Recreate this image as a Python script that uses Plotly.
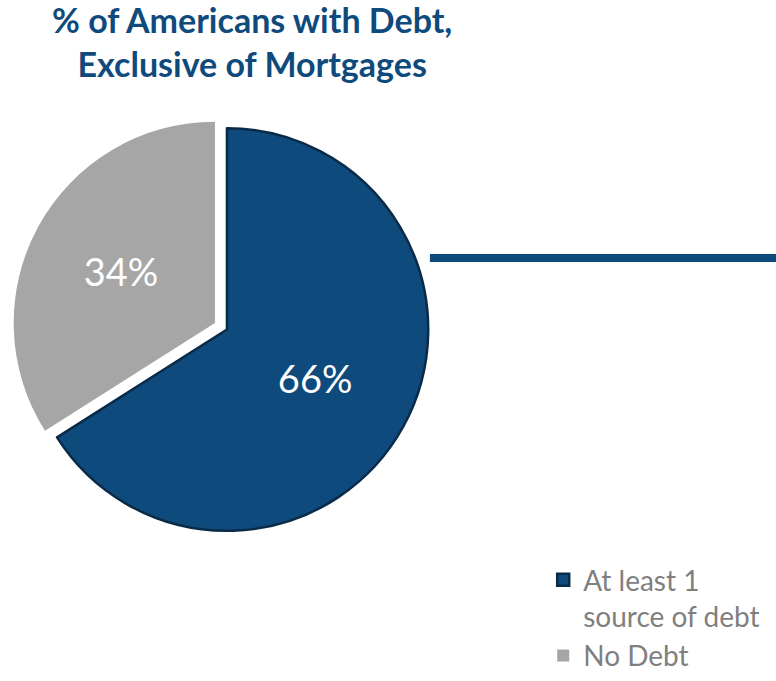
import plotly.graph_objects as go

labels = ["At least 1<br>source of debt", "No Debt"]
values = [66, 34]
colors = ["#0F4A7C", "#A6A6A6"]
outline_colors = ["#0A2B48", "#A6A6A6"]
outline_widths = [2.5, 0]
pulls = [0.068, 0]
title_text = "% of Americans with Debt,<br>Exclusive of Mortgages"

fig = go.Figure(go.Pie(
    labels=labels,
    values=values,
    sort=False,
    direction="clockwise",
    rotation=0,
    pull=pulls,
    marker=dict(colors=colors, line=dict(color=outline_colors, width=outline_widths)),
    texttemplate="%{percent:.0%}",
    textposition="inside",
    insidetextorientation="horizontal",
    textfont=dict(family="Lato", size=38, color="white", weight=400),
    hoverinfo="label+percent",
    domain=dict(x=[0, 0.554], y=[0.2085, 0.843]),
))

fig.add_shape(type="line", xref="paper", yref="paper",
              x0=0.554, x1=1.0, y0=0.621, y1=0.621,
              line=dict(color="#0F4A7C", width=8))

fig.update_layout(
    width=776, height=681,
    margin=dict(l=0, r=0, t=0, b=0),
    paper_bgcolor="white",
    plot_bgcolor="white",
    title=dict(text=title_text, x=0.325, xanchor="center", y=0.9515, yanchor="top",
               font=dict(family="Lato", size=34, color="#0F4A7C", weight="bold")),
    legend=dict(x=0.70, y=0.0, xanchor="left", yanchor="bottom",
                font=dict(family="Lato", size=28, color="#7F7F7F"),
                valign="top", traceorder="normal"),
)

fig.write_html("out.html")
